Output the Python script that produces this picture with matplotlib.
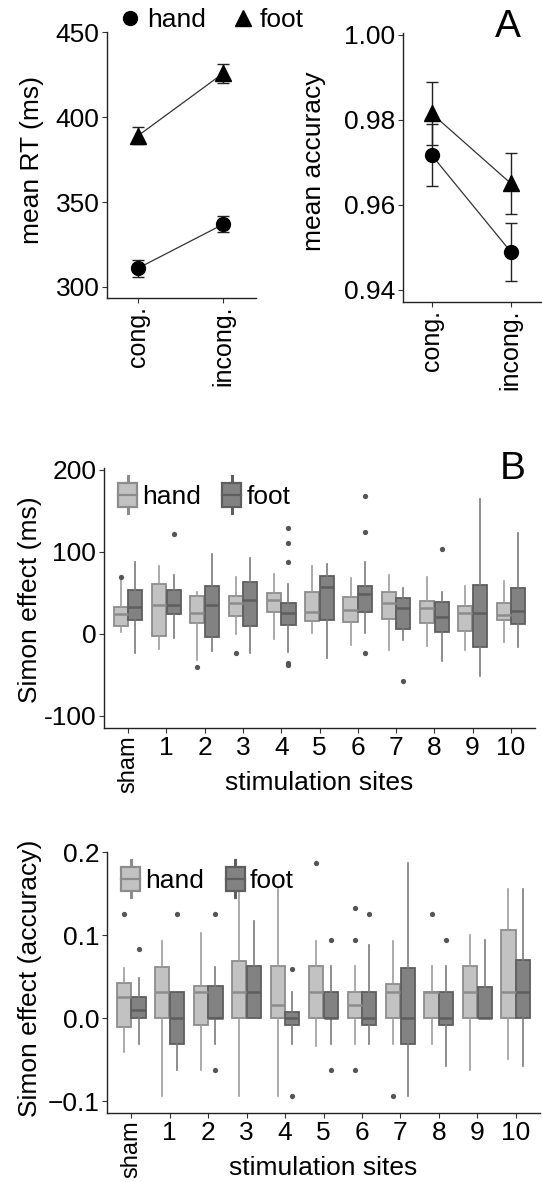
import matplotlib
matplotlib.use("Agg")
import matplotlib.pyplot as plt
from matplotlib.legend_handler import HandlerBase
from matplotlib.patches import Rectangle, Patch
from matplotlib.lines import Line2D

plt.rcParams['font.family'] = ['Liberation Sans', 'DejaVu Sans']
FS = 19

# ---- panel A data ----
conditions = ['cong.', 'incong.']
rt_hand = [311, 337]
rt_hand_se = [5.0, 4.6]
rt_foot = [389, 426]
rt_foot_se = [5.0, 5.6]
acc_hand = [0.9717, 0.9489]
acc_hand_se = [0.0072, 0.0069]
acc_foot = [0.9815, 0.9650]
acc_foot_se = [0.0074, 0.0071]

# ---- panel B data ----
sites = ['sham', '1', '2', '3', '4', '5', '6', '7', '8', '9', '10']

rt_hand_med = [23.6, 35.4, 25.0, 37.0, 40.6, 26.0, 28.5, 37.4, 31.0, 25.6, 23.0]
rt_hand_q1 = [9.8, -3.3, 13.0, 21.0, 26.4, 15.0, 14.2, 18.5, 13.0, 2.8, 16.7]
rt_hand_q3 = [32.5, 61.0, 46.0, 46.0, 49.6, 50.8, 44.3, 50.4, 40.0, 33.3, 37.8]
rt_hand_lo = [2.4, -18.3, -32.0, -1.0, -6.5, 0.4, -13.4, -20.0, -15.4, -19.5, -10.6]
rt_hand_hi = [66.0, 82.5, 51.0, 69.0, 73.0, 82.0, 68.0, 71.0, 69.0, 58.5, 63.8]
rt_hand_out = [[69], [], [-41], [-24], [], [], [], [], [], [], []]

rt_foot_med = [32.5, 34.6, 34.6, 40.6, 24.8, 57.0, 48.8, 31.7, 20.7, 25.2, 27.6]
rt_foot_q1 = [17.0, 23.6, -4.5, 9.0, 10.0, 16.3, 26.0, 6.0, 1.6, -16.7, 11.4]
rt_foot_q3 = [53.0, 53.0, 58.5, 63.0, 37.4, 70.7, 58.5, 43.0, 39.0, 59.3, 56.0]
rt_foot_lo = [-23.6, -5.7, -21.0, -23.6, -22.8, -30.0, 0.8, -7.3, -33.7, -51.0, -16.7]
rt_foot_hi = [88.0, 71.5, 97.0, 92.0, 60.0, 85.0, 88.0, 55.7, 50.4, 164.6, 122.8]
rt_foot_out = [[], [122], [], [], [129, 110.6, 87.8, -35.8, -38], [],
               [167.5, 123.6, -23.6], [-58], [103], [], []]

acc_hand_med = [0.026, 0.031, 0.031, 0.031, 0.016, 0.031, 0.016, 0.031, 0.031, 0.031, 0.031]
acc_hand_q1 = [-0.010, 0, -0.008, 0, 0, 0, 0, 0, 0, 0, 0]
acc_hand_q3 = [0.042, 0.062, 0.039, 0.069, 0.063, 0.063, 0.031, 0.041, 0.031, 0.063, 0.106]
acc_hand_lo = [-0.041, -0.093, -0.062, -0.093, -0.093, -0.033, -0.031, -0.031, -0.031, -0.062, -0.049]
acc_hand_hi = [0.061, 0.093, 0.102, 0.156, 0.156, 0.093, 0.063, 0.093, 0.063, 0.100, 0.156]
acc_hand_out = [[0.125], [], [], [], [], [0.187], [0.133, 0.094, -0.062], [-0.093], [0.125], [], []]

acc_foot_med = [0.010, 0, 0, 0.031, 0, 0, 0, 0, 0, 0, 0.031]
acc_foot_q1 = [0, -0.031, 0, 0, -0.008, 0, -0.008, -0.031, -0.008, 0, 0]
acc_foot_q3 = [0.025, 0.031, 0.039, 0.063, 0.008, 0.031, 0.031, 0.060, 0.031, 0.038, 0.070]
acc_foot_lo = [-0.031, -0.062, -0.031, 0, -0.031, -0.031, -0.031, -0.093, -0.058, 0, -0.058]
acc_foot_hi = [0.048, 0.031, 0.062, 0.117, 0.031, 0.063, 0.088, 0.187, 0.063, 0.094, 0.156]
acc_foot_out = [[0.083], [0.125], [0.125, -0.062], [], [0.059, -0.093], [0.094, -0.062],
                [0.125], [], [0.094], [], []]

HAND_FC, HAND_EC, HAND_WH = '#C2C2C2', '#8C8C8C', '#9C9C9C'
FOOT_FC, FOOT_EC, FOOT_WH = '#828282', '#5E5E5E', '#7A7A7A'
AXCOL = '#222222'

W, H = 542, 1182
fig = plt.figure(figsize=(W / 100, H / 100), dpi=100)


def px_axes(x0, y0, x1, y1):
    return fig.add_axes([x0 / W, 1 - y1 / H, (x1 - x0) / W, (y1 - y0) / H])


def classic(ax):
    for s in ['top', 'right']:
        ax.spines[s].set_visible(False)
    for s in ['left', 'bottom']:
        ax.spines[s].set_color(AXCOL)
        ax.spines[s].set_linewidth(1.0)
    ax.tick_params(colors='#333333', labelcolor='black', length=3.5, width=0.8,
                   labelsize=FS, pad=2)


# ---------------- panel A ----------------
axA1 = px_axes(107, 32, 256, 298)
axA2 = px_axes(403, 33, 541, 302)
xa = list(range(len(conditions)))

for ax, h, hs, f, fse in [(axA1, rt_hand, rt_hand_se, rt_foot, rt_foot_se),
                          (axA2, acc_hand, acc_hand_se, acc_foot, acc_foot_se)]:
    for vals, se, mk in [(h, hs, 'o'), (f, fse, '^')]:
        ax.plot(xa, vals, color='#333333', lw=0.9, zorder=2)
        ax.errorbar(xa, vals, yerr=se, fmt='none', ecolor='#222222', elinewidth=1.0,
                    capsize=4, capthick=1.0, zorder=3)
        ax.plot(xa, vals, linestyle='none', marker=mk, color='black',
                markersize=10 if mk == 'o' else 11, zorder=4)
    classic(ax)
    ax.set_xlim(-0.36, 1.38)
    ax.set_xticks(xa)
    ax.set_xticklabels(conditions, rotation=90, fontsize=18)

axA1.set_ylim(293.5, 450.2)
axA1.set_yticks([300, 350, 400, 450])
axA2.set_ylim(0.9371, 1.0004)
axA2.set_yticks([0.94, 0.96, 0.98, 1.00])
axA2.set_yticklabels(['0.94', '0.96', '0.98', '1.00'])

fig.text(32 / W, 1 - 160 / H, 'mean RT (ms)', rotation=90, ha='center', va='center', fontsize=FS)
fig.text(314 / W, 1 - 161 / H, 'mean accuracy', rotation=90, ha='center', va='center', fontsize=FS)
fig.text(508 / W, 1 - 27 / H, 'A', ha='center', va='center', fontsize=28)

legA = [Line2D([], [], marker='o', color='black', linestyle='none', markersize=10),
        Line2D([], [], marker='^', color='black', linestyle='none', markersize=11)]
fig.legend(legA, ['hand', 'foot'], loc='center left', bbox_to_anchor=(119 / W, 1 - 20 / H),
           ncol=2, frameon=False, fontsize=FS, handlelength=0.8, handletextpad=0.25,
           columnspacing=1.0, borderpad=0, borderaxespad=0)


# ---------------- panel B ----------------
class BoxKey(HandlerBase):
    def create_artists(self, legend, orig, xd, yd, w, h, fs, trans):
        fc = orig.get_facecolor()
        ec = orig.get_edgecolor()
        x0, y0 = -xd, -yd
        cx = x0 + w / 2
        bot, top = y0 - 0.05 * h, y0 + 1.05 * h
        wl = Line2D([cx, cx], [bot - 0.3 * h, bot], color=ec, lw=2.2, transform=trans)
        wu = Line2D([cx, cx], [top, top + 0.3 * h], color=ec, lw=2.2, transform=trans)
        box = Rectangle((x0, bot), w, top - bot, facecolor=fc, edgecolor=ec, lw=1.6,
                        transform=trans)
        med = Line2D([x0, x0 + w], [y0 + h / 2] * 2, color=ec, lw=1.6, transform=trans)
        return [wl, wu, box, med]


def box_stats(med, q1, q3, lo, hi, out):
    return [dict(med=m, q1=a, q3=b, whislo=l, whishi=u, fliers=o)
            for m, a, b, l, u, o in zip(med, q1, q3, lo, hi, out)]


def box_panel(ax, hand, foot, ylim, yticks, yticklabels, ylabel, ylab_y):
    pos = list(range(len(sites)))
    for stats, off, fc, ec, wh in [(hand, -0.19, HAND_FC, HAND_EC, HAND_WH),
                                   (foot, 0.19, FOOT_FC, FOOT_EC, FOOT_WH)]:
        ax.bxp(stats, positions=[p + off for p in pos], widths=0.37, patch_artist=True,
               showcaps=False, manage_ticks=False,
               boxprops=dict(facecolor=fc, edgecolor=ec, linewidth=1.3),
               medianprops=dict(color=ec, linewidth=1.8),
               whiskerprops=dict(color=wh, linewidth=1.2),
               flierprops=dict(marker='o', markersize=3.8, markerfacecolor='#555555',
                               markeredgecolor='none'))
    classic(ax)
    ax.set_xlim(-0.63, 10.63)
    ax.set_ylim(*ylim)
    ax.set_xticks(pos)
    ax.set_xticklabels(sites)
    sham = ax.get_xticklabels()[0]
    sham.set_rotation(90)
    sham.set_fontsize(17)
    ax.set_yticks(yticks)
    ax.set_yticklabels(yticklabels)
    ax.set_xlabel('stimulation sites', fontsize=FS)
    ax.xaxis.set_label_coords(0.5, -0.165)
    fig.text(30 / W, 1 - ylab_y / H, ylabel, rotation=90, ha='center', va='center', fontsize=FS)
    handles = [Patch(facecolor=HAND_FC, edgecolor=HAND_EC), Patch(facecolor=FOOT_FC, edgecolor=FOOT_EC)]
    ax.legend(handles, ['hand', 'foot'], handler_map={Patch: BoxKey()}, loc='upper left',
              bbox_to_anchor=(0.033, 0.94), ncol=2, frameon=False, fontsize=FS,
              handlelength=0.72, handleheight=0.9, handletextpad=0.2, columnspacing=0.8,
              borderpad=0, borderaxespad=0)


axB1 = px_axes(104, 468, 535, 728)
box_panel(axB1,
          box_stats(rt_hand_med, rt_hand_q1, rt_hand_q3, rt_hand_lo, rt_hand_hi, rt_hand_out),
          box_stats(rt_foot_med, rt_foot_q1, rt_foot_q3, rt_foot_lo, rt_foot_hi, rt_foot_out),
          (-115, 202), [-100, 0, 100, 200], ['-100', '0', '100', '200'],
          'Simon effect (ms)', 600)
fig.text(513 / W, 1 - 469 / H, 'B', ha='center', va='center', fontsize=28)

axB2 = px_axes(107, 852, 540, 1113)
box_panel(axB2,
          box_stats(acc_hand_med, acc_hand_q1, acc_hand_q3, acc_hand_lo, acc_hand_hi, acc_hand_out),
          box_stats(acc_foot_med, acc_foot_q1, acc_foot_q3, acc_foot_lo, acc_foot_hi, acc_foot_out),
          (-0.114, 0.2), [-0.1, 0.0, 0.1, 0.2], ['\u22120.1', '0.0', '0.1', '0.2'],
          'Simon effect (accuracy)', 978)

fig.savefig('out.png', dpi=100)
